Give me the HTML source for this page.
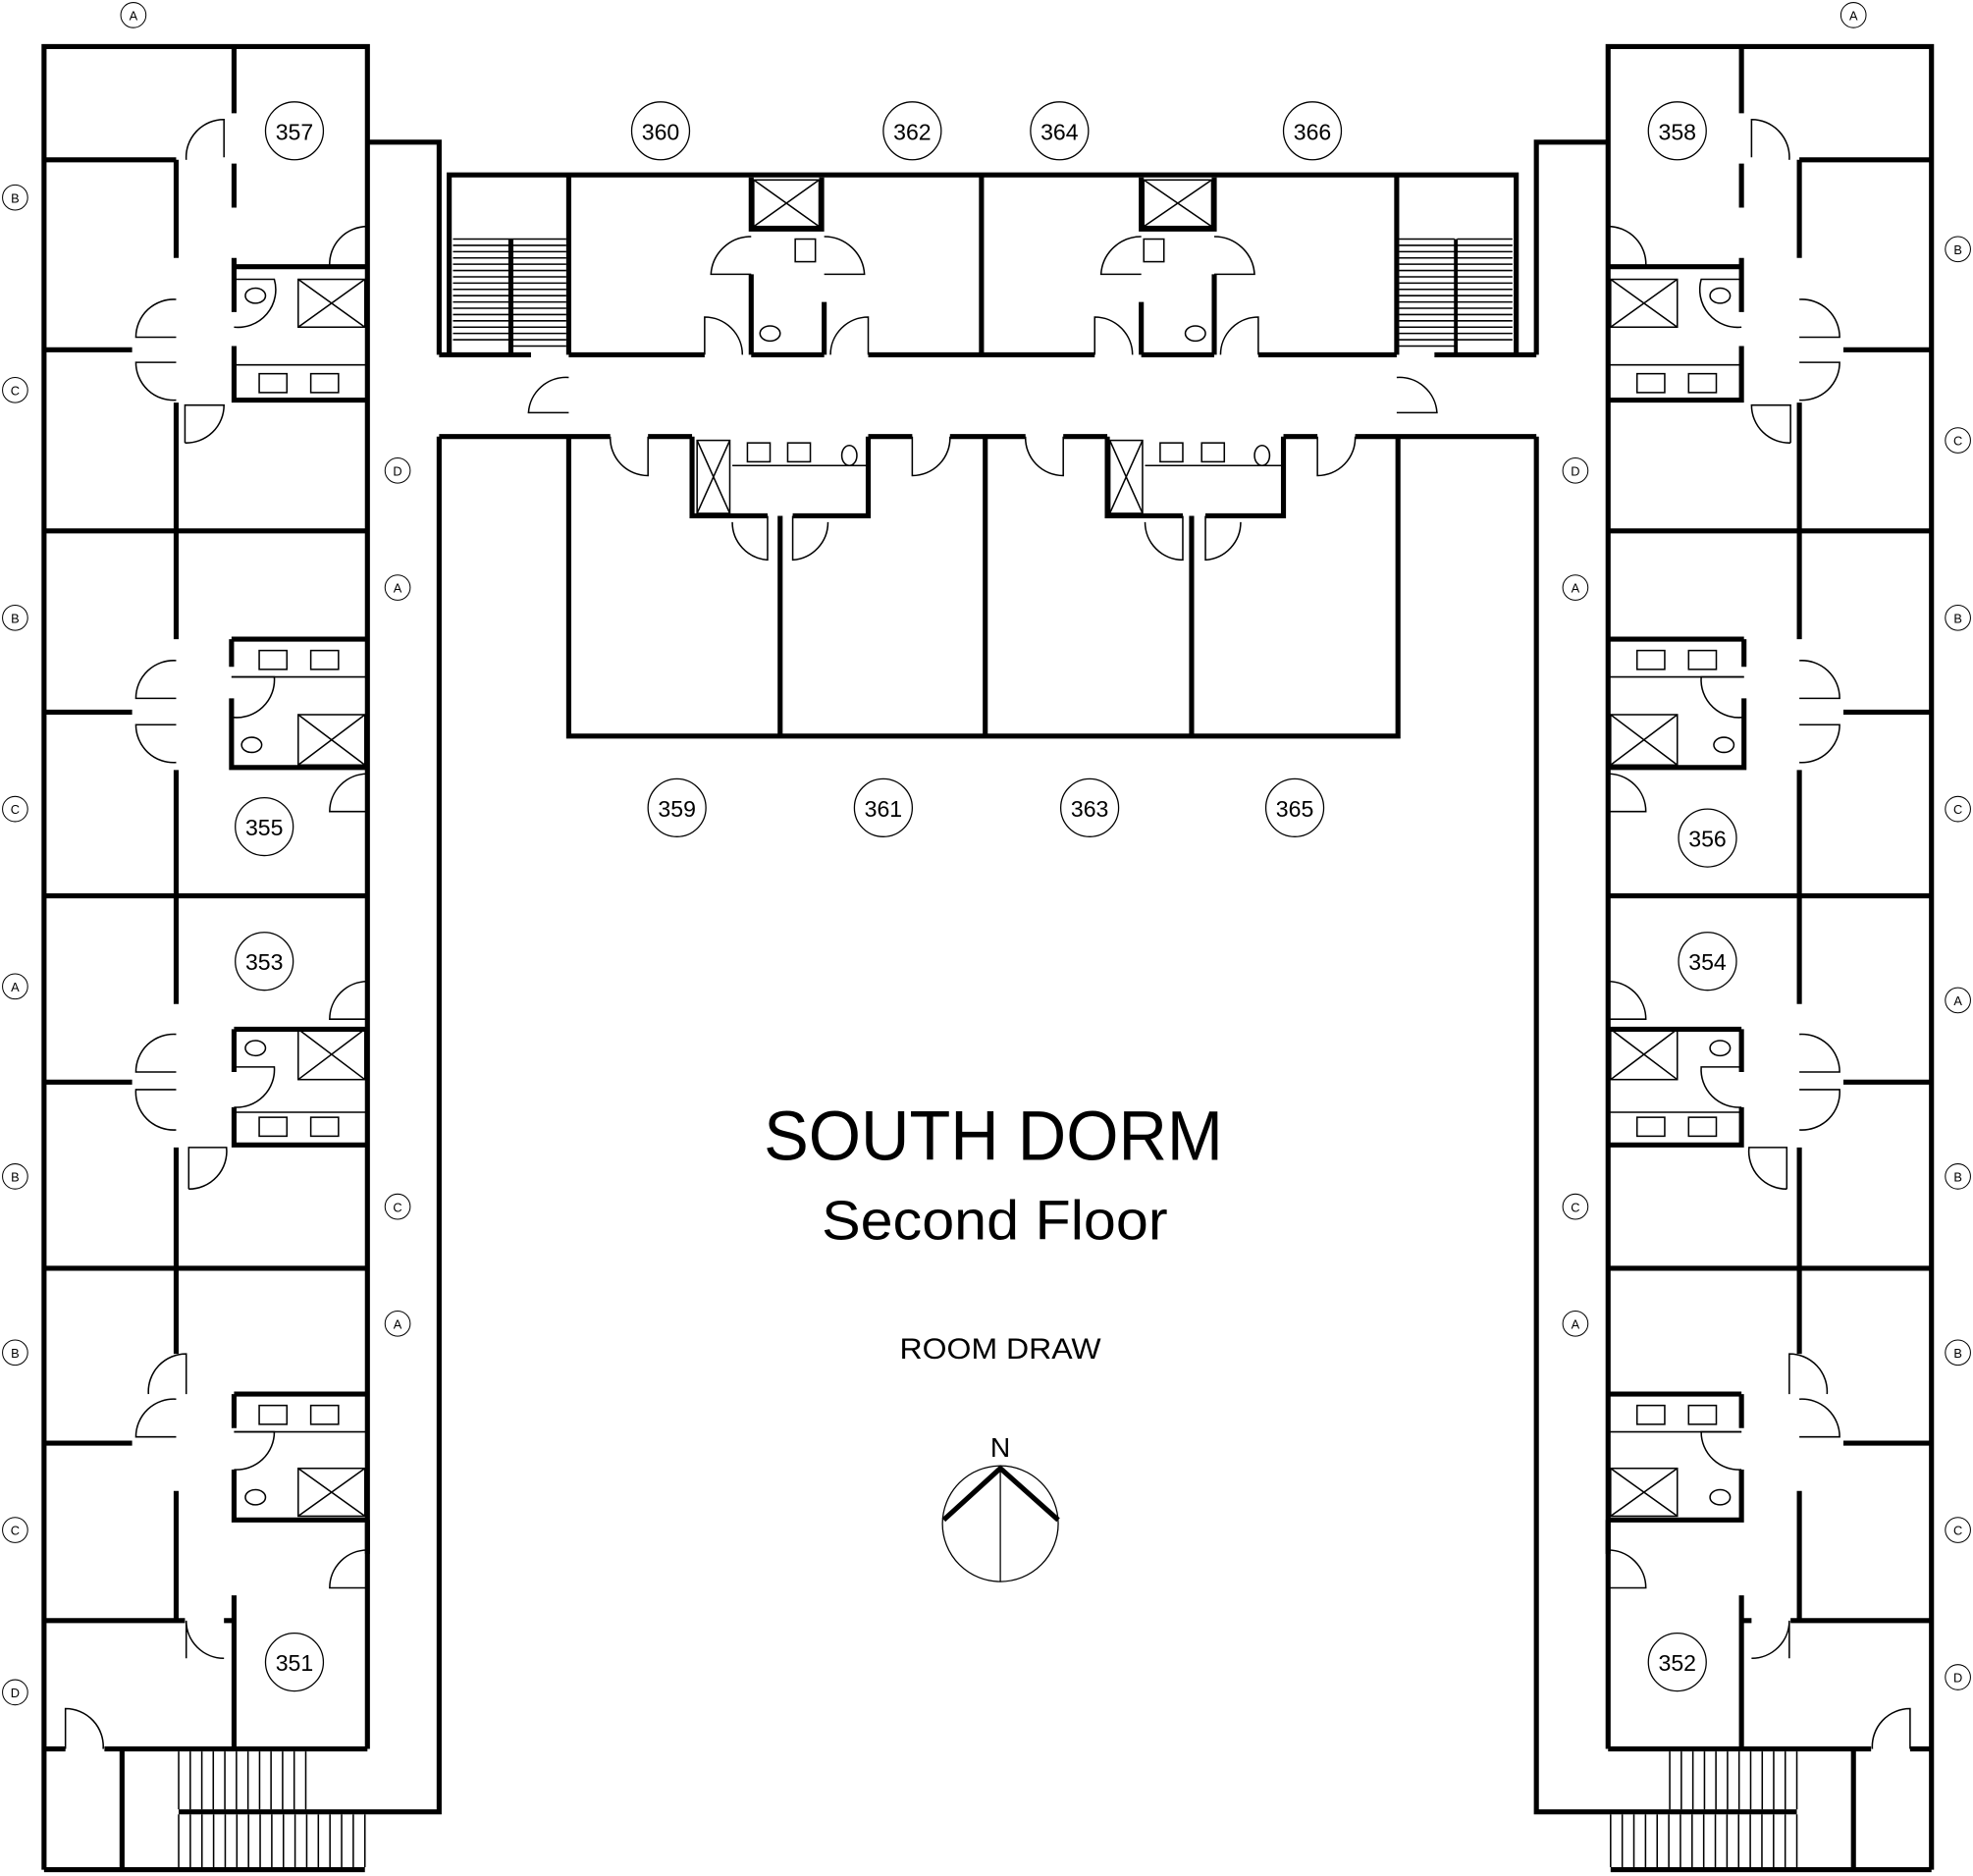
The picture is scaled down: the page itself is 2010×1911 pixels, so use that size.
<!DOCTYPE html>
<html><head><meta charset="utf-8"><style>
html,body{margin:0;padding:0;background:#fff;}
svg{display:block;}
text{font-family:"Liberation Sans",sans-serif;fill:#000;}
</style></head><body>
<svg width="2010" height="1911" viewBox="0 0 1568 1491" preserveAspectRatio="none" xmlns="http://www.w3.org/2000/svg">
<rect width="1568" height="1491" fill="#fff"/>
<defs>
<g id="wing" fill="none" stroke="#000">
  <g stroke-width="4">
    <path d="M35,1486 V37 H292 V1390"/>
    <path d="M292,113 H349 V282"/>
    <path d="M349,347 V1440 H142"/>
    <path d="M35,1390 H52 M83,1390 H292"/>
    <path d="M97,1390 V1486"/>
    <path d="M35,1486 H290"/>
    <path d="M35,127 H140"/>
    <path d="M35,278 H105"/>
    <path d="M35,422 H292"/>
    <path d="M35,566 H105"/>
    <path d="M35,712 H292"/>
    <path d="M35,860 H105"/>
    <path d="M35,1008 H292"/>
    <path d="M35,1147 H105"/>
    <path d="M35,1288 H147 M178,1288 H186"/>
    <path d="M140,127 V205 M140,320 V508 M140,612 V798 M140,912 V1076 M140,1185 V1288"/>
    <path d="M186,37 V90 M186,130 V165 M186,1268 V1390"/>
    <path d="M186,205 V248 M186,275 V318 H292 M186,212 H292"/>
    <path d="M184,508 H292 M184,508 V530 M184,555 V610 H292"/>
    <path d="M186,818 H292 M186,818 V852 M186,880 V910 H292"/>
    <path d="M186,1108 H292 M186,1108 V1135 M186,1168 V1208 H292"/>
    <path d="M292,1208 V1235"/>
  </g>
  <g stroke-width="1.2">
    <path d="M148,127 A30,30 0 0 1 178,95 V125"/>
    <path d="M140,238 A30,30 0 0 0 108,268 H140"/>
    <path d="M140,288 H108 A30,30 0 0 0 140,318"/>
    <path d="M147,352 V322 H178 A30,30 0 0 1 147,352"/>
    <path d="M292,180 A30,30 0 0 0 262,212 H292"/>
    <path d="M186,222 H218 A30,30 0 0 1 186,260"/>
    <path d="M140,525 A30,30 0 0 0 108,555 H140"/>
    <path d="M140,576 H108 A30,30 0 0 0 140,606"/>
    <path d="M184,538 H218 A30,30 0 0 1 184,570"/>
    <path d="M292,615 A30,30 0 0 0 262,645 H292"/>
    <path d="M292,780 A30,30 0 0 0 262,810 H292"/>
    <path d="M140,822 A30,30 0 0 0 108,852 H140"/>
    <path d="M140,866 H108 A30,30 0 0 0 140,898"/>
    <path d="M186,848 H218 A30,30 0 0 1 186,880"/>
    <path d="M150,945 V912 H180 A30,30 0 0 1 150,945"/>
    <path d="M148,1108 V1076 A30,30 0 0 0 118,1108"/>
    <path d="M140,1112 A30,30 0 0 0 108,1142 H140"/>
    <path d="M186,1138 H218 A30,30 0 0 1 186,1168"/>
    <path d="M292,1232 A30,30 0 0 0 262,1262 H292"/>
    <path d="M178,1318 A30,30 0 0 1 148,1288 V1318"/>
    <path d="M52,1390 V1358 A30,30 0 0 1 82,1390"/>
    <rect x="237" y="222" width="53" height="38"/><path d="M237,222 L290,260 M290,222 L237,260"/>
    <rect x="237" y="568" width="53" height="40"/><path d="M237,568 L290,608 M290,568 L237,608"/>
    <rect x="237" y="818" width="53" height="40"/><path d="M237,818 L290,858 M290,818 L237,858"/>
    <rect x="237" y="1167" width="53" height="38"/><path d="M237,1167 L290,1205 M290,1167 L237,1205"/>
    <path d="M186,290 H292 M184,538 H292 M186,884 H292 M186,1138 H292"/>
    <rect x="206" y="297" width="22" height="15"/><rect x="247" y="297" width="22" height="15"/>
    <rect x="206" y="517" width="22" height="15"/><rect x="247" y="517" width="22" height="15"/>
    <rect x="206" y="888" width="22" height="15"/><rect x="247" y="888" width="22" height="15"/>
    <rect x="206" y="1117" width="22" height="15"/><rect x="247" y="1117" width="22" height="15"/>
    <ellipse cx="203" cy="235" rx="8" ry="6"/><ellipse cx="200" cy="592" rx="8" ry="6"/>
    <ellipse cx="203" cy="833" rx="8" ry="6"/><ellipse cx="203" cy="1190" rx="8" ry="6"/>
    <!-- upper stairs -->
    <path d="M142,1392 v46 M151.2,1392 v46 M160.4,1392 v46 M169.5,1392 v46 M178.7,1392 v46 M187.9,1392 v46 M197.1,1392 v46 M206.3,1392 v46 M215.4,1392 v46 M224.6,1392 v46 M233.8,1392 v46 M243,1392 v46"/>
    <!-- lower stairs -->
    <path d="M142,1442 v42 M151.25,1442 v42 M160.5,1442 v42 M169.75,1442 v42 M179,1442 v42 M188.25,1442 v42 M197.5,1442 v42 M206.75,1442 v42 M216,1442 v42 M225.25,1442 v42 M234.5,1442 v42 M243.75,1442 v42 M253,1442 v42 M262.25,1442 v42 M271.5,1442 v42 M280.75,1442 v42 M290,1442 v42"/>
  </g>
</g>
</defs>
<use href="#wing"/>
<use href="#wing" transform="translate(1570,0) scale(-1,1)"/>

<g fill="none" stroke="#000" stroke-width="4">
  <path d="M357,282 V139 H1205 V282"/>
  <path d="M349,282 H422 M452,282 H560 M690,282 H870 M1000,282 H1110 M1140,282 H1221"/>
  <path d="M349,347 H485 M515,347 H550 M690,347 H725 M755,347 H815 M845,347 H880 M1020,347 H1047 M1077,347 H1221"/>
  <path d="M452,139 V282 M780,139 V282 M1110,139 V282 M406,190 V282"/>
  <path d="M452,347 V585 H1111 V347"/>
  <path d="M620,410 V585 M783,347 V585 M947,410 V585"/>
  <path d="M597,141 V182 H653 V141 M597,218 V282 M655,240 V282 M597,282 H655"/>
  <path d="M907,141 V182 H965 V141 M907,240 V282 M965,218 V282 M907,282 H965"/>
  <path d="M550,347 V410 H610 M630,410 H690 V347"/>
  <path d="M880,347 V410 H940 M958,410 H1020 V347"/>
</g>
<g fill="none" stroke="#000" stroke-width="1.2">
  <path d="M597,218 H565 A32,32 0 0 1 597,188 M655,188 A32,32 0 0 1 687,218 H655"/>
  <path d="M907,188 A32,32 0 0 0 875,218 H907 M965,218 H997 A32,32 0 0 0 965,188"/>
  <path d="M590,282 A30,30 0 0 0 560,252 V282 M660,282 A30,30 0 0 1 690,252 V282"/>
  <path d="M900,282 A30,30 0 0 0 870,252 V282 M970,282 A30,30 0 0 1 1000,252 V282"/>
  <path d="M452,300 A30,30 0 0 0 420,328 H452 M1110,300 A30,30 0 0 1 1142,328 H1110"/>
  <path d="M485,347 A30,30 0 0 0 515,378 V347 M755,347 A30,30 0 0 1 725,378 V347"/>
  <path d="M815,347 A30,30 0 0 0 845,378 V347 M1077,347 A30,30 0 0 1 1047,378 V347"/>
  <path d="M610,410 V445 A30,30 0 0 1 582,415 M630,410 V445 A30,30 0 0 0 658,415"/>
  <path d="M940,410 V445 A30,30 0 0 1 910,415 M958,410 V445 A30,30 0 0 0 986,415"/>
  <rect x="599" y="143" width="52" height="37"/><path d="M599,143 L651,180 M651,143 L599,180"/>
  <rect x="909" y="143" width="54" height="37"/><path d="M909,143 L963,180 M963,143 L909,180"/>
  <rect x="554" y="350" width="26" height="58"/><path d="M554,350 L580,408 M580,350 L554,408"/>
  <rect x="882" y="350" width="26" height="58"/><path d="M882,350 L908,408 M908,350 L882,408"/>
  <rect x="632" y="190" width="16" height="18"/><rect x="909" y="190" width="16" height="18"/>
  <ellipse cx="612" cy="265" rx="8" ry="6"/><ellipse cx="950" cy="265" rx="8" ry="6"/>
  <rect x="594" y="352" width="18" height="15"/><rect x="626" y="352" width="18" height="15"/>
  <rect x="922" y="352" width="18" height="15"/><rect x="955" y="352" width="18" height="15"/>
  <ellipse cx="675" cy="362" rx="6" ry="8"/><ellipse cx="1003" cy="362" rx="6" ry="8"/>
  <path d="M582,370 H690 M910,370 H1020"/>
  <path d="M360,190 H406 M360,195 H406 M360,200 H406 M360,205 H406 M360,210 H406 M360,215 H406 M360,220 H406 M360,225 H406 M360,230 H406 M360,235 H406 M360,240 H406 M360,245 H406 M360,250 H406 M360,255 H406 M360,260 H406 M360,265 H406 M360,270 H406"/>
  <path d="M406,190 H450 M406,195 H450 M406,200 H450 M406,205 H450 M406,210 H450 M406,215 H450 M406,220 H450 M406,225 H450 M406,230 H450 M406,235 H450 M406,240 H450 M406,245 H450 M406,250 H450 M406,255 H450 M406,260 H450 M406,265 H450 M406,270 H450 M406,275 H450"/>
  <path d="M1112,190 H1156 M1112,195 H1156 M1112,200 H1156 M1112,205 H1156 M1112,210 H1156 M1112,215 H1156 M1112,220 H1156 M1112,225 H1156 M1112,230 H1156 M1112,235 H1156 M1112,240 H1156 M1112,245 H1156 M1112,250 H1156 M1112,255 H1156 M1112,260 H1156 M1112,265 H1156 M1112,270 H1156 M1112,275 H1156"/>
  <path d="M1158,190 H1202 M1158,195 H1202 M1158,200 H1202 M1158,205 H1202 M1158,210 H1202 M1158,215 H1202 M1158,220 H1202 M1158,225 H1202 M1158,230 H1202 M1158,235 H1202 M1158,240 H1202 M1158,245 H1202 M1158,250 H1202 M1158,255 H1202 M1158,260 H1202 M1158,265 H1202 M1158,270 H1202"/>
  <path d="M1157,190 V282" stroke-width="3"/>
</g>

<g font-size="18" text-anchor="middle">
  <g fill="#fff" stroke="#000" stroke-width="1">
    <circle cx="234" cy="104" r="23"/><circle cx="525" cy="104" r="23"/><circle cx="725" cy="104" r="23"/>
    <circle cx="842" cy="104" r="23"/><circle cx="1043" cy="104" r="23"/><circle cx="1333" cy="104" r="23"/>
    <circle cx="538" cy="642" r="23"/><circle cx="702" cy="642" r="23"/><circle cx="866" cy="642" r="23"/><circle cx="1029" cy="642" r="23"/>
    <circle cx="210" cy="657" r="23"/><circle cx="1357" cy="666" r="23"/>
    <circle cx="210" cy="764" r="23"/><circle cx="1357" cy="764" r="23"/>
    <circle cx="234" cy="1321" r="23"/><circle cx="1333" cy="1321" r="23"/>
  </g>
  <text x="234" y="111">357</text><text x="525" y="111">360</text><text x="725" y="111">362</text>
  <text x="842" y="111">364</text><text x="1043" y="111">366</text><text x="1333" y="111">358</text>
  <text x="538" y="649">359</text><text x="702" y="649">361</text><text x="866" y="649">363</text><text x="1029" y="649">365</text>
  <text x="210" y="664">355</text><text x="1357" y="673">356</text>
  <text x="210" y="771">353</text><text x="1357" y="771">354</text>
  <text x="234" y="1328">351</text><text x="1333" y="1328">352</text>
</g>

<g font-size="10" text-anchor="middle">
  <g fill="#fff" stroke="#000" stroke-width="0.8">
    <circle cx="106" cy="12" r="10"/><circle cx="1473" cy="12" r="10"/>
    <circle cx="12" cy="157" r="10"/><circle cx="12" cy="310" r="10"/><circle cx="12" cy="491" r="10"/><circle cx="12" cy="643" r="10"/>
    <circle cx="12" cy="784" r="10"/><circle cx="12" cy="935" r="10"/><circle cx="12" cy="1075" r="10"/><circle cx="12" cy="1216" r="10"/><circle cx="12" cy="1345" r="10"/>
    <circle cx="316" cy="374" r="10"/><circle cx="316" cy="467" r="10"/><circle cx="316" cy="959" r="10"/><circle cx="316" cy="1052" r="10"/>
    <circle cx="1252" cy="374" r="10"/><circle cx="1252" cy="467" r="10"/><circle cx="1252" cy="959" r="10"/><circle cx="1252" cy="1052" r="10"/>
    <circle cx="1556" cy="198" r="10"/><circle cx="1556" cy="350" r="10"/><circle cx="1556" cy="491" r="10"/><circle cx="1556" cy="643" r="10"/>
    <circle cx="1556" cy="795" r="10"/><circle cx="1556" cy="935" r="10"/><circle cx="1556" cy="1075" r="10"/><circle cx="1556" cy="1216" r="10"/><circle cx="1556" cy="1333" r="10"/>
  </g>
  <text x="106" y="16">A</text><text x="1473" y="16">A</text>
  <text x="12" y="161">B</text><text x="12" y="314">C</text><text x="12" y="495">B</text><text x="12" y="647">C</text>
  <text x="12" y="788">A</text><text x="12" y="939">B</text><text x="12" y="1079">B</text><text x="12" y="1220">C</text><text x="12" y="1349">D</text>
  <text x="316" y="378">D</text><text x="316" y="471">A</text><text x="316" y="963">C</text><text x="316" y="1056">A</text>
  <text x="1252" y="378">D</text><text x="1252" y="471">A</text><text x="1252" y="963">C</text><text x="1252" y="1056">A</text>
  <text x="1556" y="202">B</text><text x="1556" y="354">C</text><text x="1556" y="495">B</text><text x="1556" y="647">C</text>
  <text x="1556" y="799">A</text><text x="1556" y="939">B</text><text x="1556" y="1079">B</text><text x="1556" y="1220">C</text><text x="1556" y="1337">D</text>
</g>

<text x="607" y="922" font-size="56" textLength="365" lengthAdjust="spacingAndGlyphs">SOUTH DORM</text>
<text x="653" y="985" font-size="44" textLength="275" lengthAdjust="spacingAndGlyphs">Second Floor</text>
<text x="715" y="1080" font-size="23" textLength="160" lengthAdjust="spacingAndGlyphs">ROOM DRAW</text>
<text x="795" y="1158" font-size="22" text-anchor="middle">N</text>
<circle cx="795" cy="1211" r="46" fill="none" stroke="#000" stroke-width="1"/>
<path d="M795,1165 V1257" stroke="#000" stroke-width="1"/>
<path d="M750,1208 L795,1167 L841,1208" fill="none" stroke="#000" stroke-width="4"/>
</svg>
</body></html>
